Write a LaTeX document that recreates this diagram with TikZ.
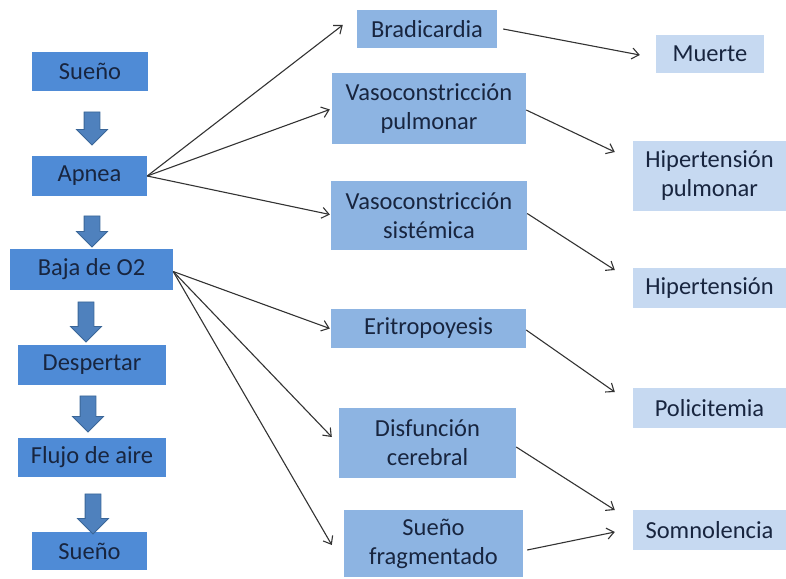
\documentclass[tikz,border=0pt]{standalone}
\usepackage{fontspec}
\setmainfont{Carlito}
\usepackage{tikz}
\usetikzlibrary{shapes,shapes.arrows,arrows.meta}
\definecolor{darkbox}{HTML}{4F8BD6}
\definecolor{midbox}{HTML}{8DB4E2}
\definecolor{lightbox}{HTML}{C6D9F1}
\definecolor{textnavy}{HTML}{18253F}
\definecolor{arrowfill}{HTML}{4F81BD}
\definecolor{arrowline}{HTML}{3A6698}
\tikzset{
  boxbase/.style={ inner sep=0pt, align=center, text=textnavy,
    font=\fontsize{24.5}{29}\selectfont }
}
\tikzset{
  leftbox/.style={ boxbase, fill=darkbox }
}
\tikzset{
  midbox/.style={ boxbase, fill=midbox }
}
\tikzset{
  rightbox/.style={ boxbase, fill=lightbox }
}
\tikzset{
  downarrow/.style={ single arrow, draw=arrowline, fill=arrowfill, line width=0.8pt,
    inner sep=7.5pt, single arrow head extend=7.5pt,
    shape border rotate=270 }
}
\tikzset{
  link/.style={ ->, line width=1.1pt, draw=black!80 }
}

\begin{document}
\begin{tikzpicture}[x=1pt, y=-1pt, >={Straight Barb[length=7pt,width=11pt]}]
      \useasboundingbox (0,0) rectangle (786,578);

      % left column
      \node[leftbox, minimum width=116pt, minimum height=39pt] (sleepA) at (90, 71.5) {Sueño};
      \node[leftbox, minimum width=115pt, minimum height=40pt] (apnea) at (89.5, 176) {Apnea};
      \node[leftbox, minimum width=163pt, minimum height=41pt] (lowox) at (91.5, 269.5) {Baja de O2};
      \node[leftbox, minimum width=148pt, minimum height=40pt] (wake) at (92, 365) {Despertar};
      \node[leftbox, minimum width=148pt, minimum height=39pt] (flow) at (92, 457.5) {Flujo de aire};
      \node[leftbox, minimum width=115pt, minimum height=38pt] (sleepB) at (89.5, 551) {Sueño};

      \node[downarrow, minimum height=33pt] (down1) at (92, 124.5) {};
      \node[downarrow, minimum height=31pt] (down2) at (92, 227.5) {};
      \node[downarrow, minimum height=40pt] (down3) at (86, 318) {};
      \node[downarrow, minimum height=36pt] (down4) at (88, 410) {};
      \node[downarrow, minimum height=40pt] (down5) at (93, 510) {};

      % middle column
      \node[midbox, minimum width=140pt, minimum height=38pt] (brady) at (427, 29) {Bradicardia};
      \node[midbox, minimum width=194pt, minimum height=71pt] (vpulm) at (429, 108.5) {Vasoconstricción\\pulmonar};
      \node[midbox, minimum width=196pt, minimum height=69pt] (vsyst) at (429, 215.5) {Vasoconstricción\\sistémica};
      \node[midbox, minimum width=195pt, minimum height=39pt] (eryth) at (428.5, 328.5) {Eritropoyesis};
      \node[midbox, minimum width=177pt, minimum height=70pt] (cereb) at (427.5, 443) {Disfunción\\cerebral};
      \node[midbox, minimum width=179pt, minimum height=67pt] (frag) at (433.5, 543.5) {Sueño\\fragmentado};

      % right column
      \node[rightbox, minimum width=108pt, minimum height=38pt] (death) at (710, 54) {Muerte};
      \node[rightbox, minimum width=153pt, minimum height=70pt] (hpulm) at (709.5, 176) {Hipertensión\\pulmonar};
      \node[rightbox, minimum width=153pt, minimum height=40pt] (hyper) at (709.5, 288) {Hipertensión};
      \node[rightbox, minimum width=153pt, minimum height=40pt] (poly) at (709.5, 408) {Policitemia};
      \node[rightbox, minimum width=153pt, minimum height=40pt] (somn) at (709.5, 530) {Somnolencia};

      \draw[link] (apnea.east) -- ([xshift=-14pt, yshift=4pt]brady.west);
      \draw[link] (apnea.east) -- ([xshift=-2pt, yshift=-1pt]vpulm.west);
      \draw[link] (apnea.east) -- ([xshift=-1pt, yshift=1pt]vsyst.west);

      \draw[link] ([yshift=-2pt]lowox.east) -- ([xshift=-1pt]eryth.west);
      \draw[link] ([yshift=-2pt]lowox.east) -- ([xshift=-7pt, yshift=6pt]cereb.west);
      \draw[link] ([yshift=-2pt]lowox.east) -- ([xshift=-12pt, yshift=-1.5pt]frag.west);

      \draw[link] ([xshift=6pt]brady.east) -- ([xshift=-16pt, yshift=-1pt]death.west);
      \draw[link] ([yshift=-1.5pt]vpulm.east) -- ([xshift=-18pt, yshift=24pt]hpulm.west);
      \draw[link] ([yshift=2pt]vsyst.east) -- ([xshift=-18pt, yshift=18pt]hyper.west);
      \draw[link] ([yshift=-1.5pt]eryth.east) -- ([xshift=-18pt, yshift=16pt]poly.west);
      \draw[link] ([yshift=-4pt]cereb.east) -- ([xshift=-18pt, yshift=20pt]somn.west);
      \draw[link] ([xshift=4pt, yshift=-6.5pt]frag.east) -- ([xshift=-18pt, yshift=-2pt]somn.west);
    \end{tikzpicture}
\end{document}
